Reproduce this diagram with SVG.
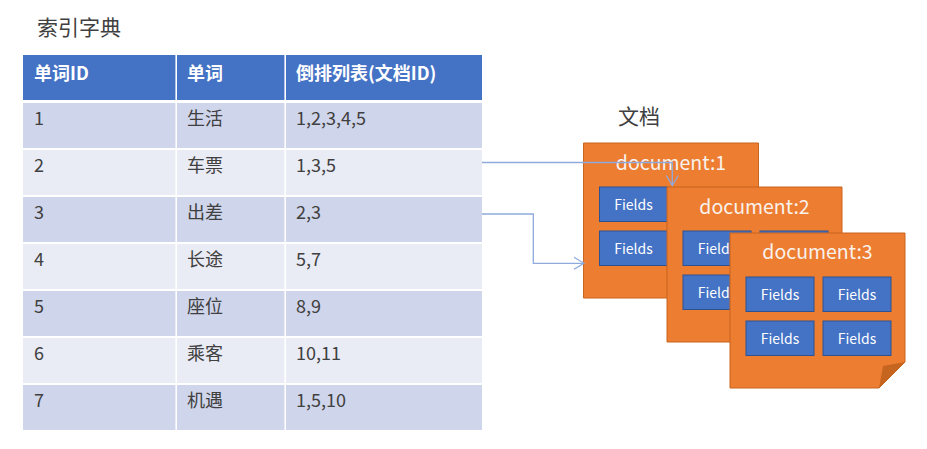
<svg xmlns="http://www.w3.org/2000/svg" width="927" height="449" viewBox="0 0 927 449">
<defs>
<style>
.t{font-family:"Noto Sans CJK SC","Noto Sans",sans-serif;}
.title{font-size:21px;fill:#404040;}
.hd{font-size:18px;font-weight:bold;fill:#ffffff;}
.bd{font-size:18px;fill:#404040;}
.odd{fill:#CFD5EA;}
.even{fill:#E9EBF5;}
.doc{fill:#ED7D31;stroke:#C8651E;stroke-width:1;}
.fold{fill:#C5651F;}
.fld{fill:#4472C4;stroke:#2F528F;stroke-width:1;}
.ft{font-size:14px;fill:#ffffff;text-anchor:middle;}
.dt{font-size:19.5px;fill:#F9F1EC;text-anchor:middle;}
.con{fill:none;stroke:#8FAADC;stroke-width:1.3;}
</style>
<marker id="arr" viewBox="0 0 12 14" refX="11" refY="7" markerWidth="12" markerHeight="14" markerUnits="userSpaceOnUse" orient="auto">
<path d="M1,1 L11,7 L1,13" fill="none" stroke="#8FAADC" stroke-width="1.3"/>
</marker>
<g id="docShape">
<path class="doc" d="M0,0 H175 V129 L149,155 H0 Z"/>
<path class="fold" d="M149,155 L175,129 L153,133 Z"/>
</g>
</defs>
<rect width="927" height="449" fill="#ffffff"/>

<text class="t title" x="37" y="35">索引字典</text>

<g id="table">
<rect x="23" y="55" width="459" height="45" fill="#4472C4"/>
<rect class="odd" x="23" y="103" width="459" height="45"/>
<rect class="even" x="23" y="150" width="459" height="45"/>
<rect class="odd" x="23" y="197" width="459" height="45"/>
<rect class="even" x="23" y="244" width="459" height="45"/>
<rect class="odd" x="23" y="291" width="459" height="45"/>
<rect class="even" x="23" y="338" width="459" height="45"/>
<rect class="odd" x="23" y="385" width="459" height="45"/>
<line x1="176.2" y1="55" x2="176.2" y2="430" stroke="#ffffff" stroke-width="1.6"/>
<line x1="285.2" y1="55" x2="285.2" y2="430" stroke="#ffffff" stroke-width="1.6"/>
<text class="t hd" x="34" y="80">单词ID</text>
<text class="t hd" x="187" y="80">单词</text>
<text class="t hd" x="296" y="80">倒排列表(文档ID)</text>
<text class="t bd" x="34" y="125">1</text><text class="t bd" x="187" y="125">生活</text><text class="t bd" x="296" y="125">1,2,3,4,5</text>
<text class="t bd" x="34" y="172">2</text><text class="t bd" x="187" y="172">车票</text><text class="t bd" x="296" y="172">1,3,5</text>
<text class="t bd" x="34" y="219">3</text><text class="t bd" x="187" y="219">出差</text><text class="t bd" x="296" y="219">2,3</text>
<text class="t bd" x="34" y="266">4</text><text class="t bd" x="187" y="266">长途</text><text class="t bd" x="296" y="266">5,7</text>
<text class="t bd" x="34" y="313">5</text><text class="t bd" x="187" y="313">座位</text><text class="t bd" x="296" y="313">8,9</text>
<text class="t bd" x="34" y="360">6</text><text class="t bd" x="187" y="360">乘客</text><text class="t bd" x="296" y="360">10,11</text>
<text class="t bd" x="34" y="407">7</text><text class="t bd" x="187" y="407">机遇</text><text class="t bd" x="296" y="407">1,5,10</text>
</g>

<text class="t title" x="618" y="124">文档</text>

<g id="doc1" transform="translate(583.5,143)">
<use href="#docShape"/>
<text class="t dt" x="87.5" y="27">document:1</text>
<rect class="fld" x="16" y="44" width="68" height="34.5"/><text class="t ft" x="50" y="66.5">Fields</text>
<rect class="fld" x="16" y="88" width="68" height="34.5"/><text class="t ft" x="50" y="110.5">Fields</text>
</g>

<g id="doc2" transform="translate(667,187)">
<use href="#docShape"/>
<text class="t dt" x="87.5" y="27">document:2</text>
<rect class="fld" x="16" y="44" width="68" height="34.5"/><text class="t ft" x="50" y="66.5">Fields</text>
<rect class="fld" x="16" y="88" width="68" height="34.5"/><text class="t ft" x="50" y="110.5">Fields</text>
<rect class="fld" x="93" y="44" width="68" height="34.5"/>
</g>

<g id="doc3" transform="translate(730,233)">
<use href="#docShape"/>
<text class="t dt" x="87.5" y="26">document:3</text>
<rect class="fld" x="16" y="44" width="68" height="34.5"/><text class="t ft" x="50" y="66.5">Fields</text>
<rect class="fld" x="16" y="88" width="68" height="34.5"/><text class="t ft" x="50" y="110.5">Fields</text>
<rect class="fld" x="93" y="44" width="68" height="34.5"/><text class="t ft" x="127" y="66.5">Fields</text>
<rect class="fld" x="93" y="88" width="68" height="34.5"/><text class="t ft" x="127" y="110.5">Fields</text>
</g>

<g id="connectors">
<path class="con" d="M482,162.5 H672.3 V185.5" marker-end="url(#arr)"/>
<path class="con" d="M482,214 H533.3 V263.3 H584" marker-end="url(#arr)"/>
</g>
</svg>
